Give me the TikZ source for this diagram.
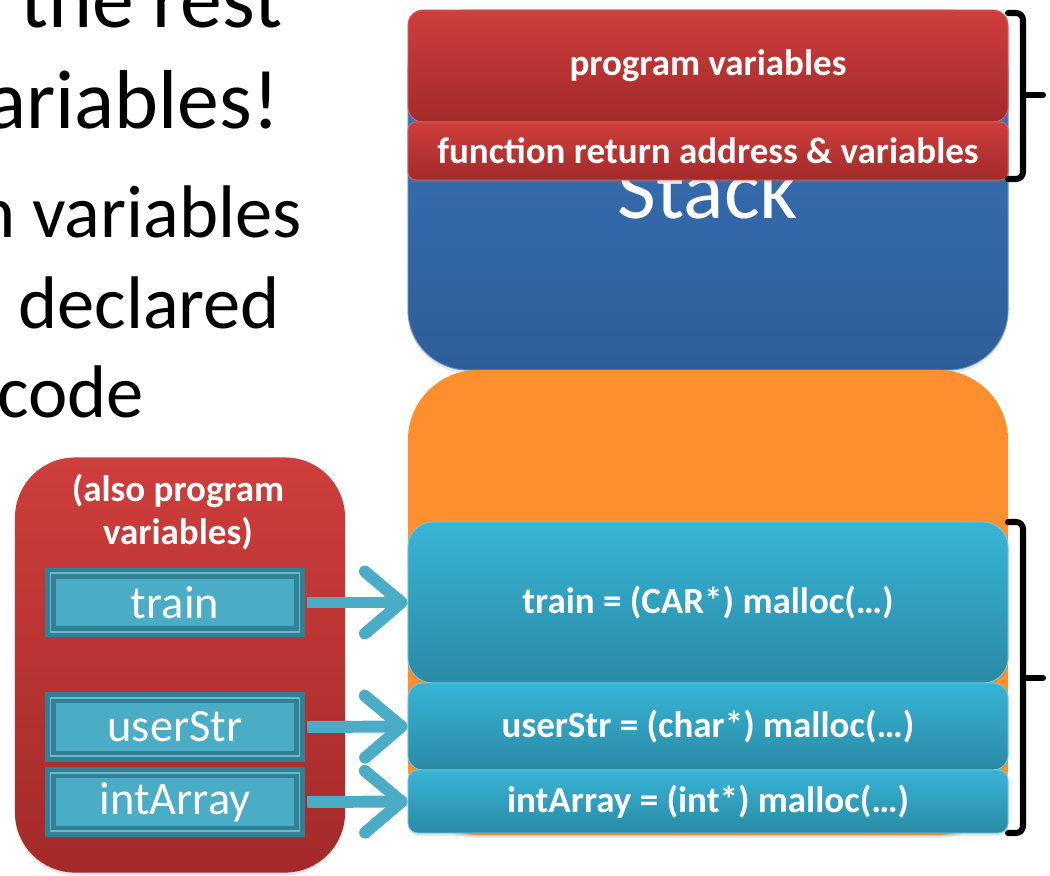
\documentclass[tikz,border=0pt]{standalone}
\usepackage{fontspec}
\setmainfont{Carlito}
\usetikzlibrary{arrows.meta,shadows}
\definecolor{stacktop}{RGB}{58,116,186}
\definecolor{stackbot}{RGB}{46,94,154}
\definecolor{redtop}{RGB}{206,62,60}
\definecolor{redbot}{RGB}{163,42,42}
\definecolor{heapfill}{RGB}{254,143,46}
\definecolor{cyantop}{RGB}{56,180,214}
\definecolor{cyanbot}{RGB}{42,138,165}
\definecolor{varfill}{RGB}{75,172,198}
\definecolor{varframe}{RGB}{49,128,150}
\definecolor{varlight}{RGB}{105,186,208}
\tikzset{
  mem/.style={rounded corners=#1, minimum width=15cm, inner sep=0pt, text=white,
    font=\bfseries\fontsize{26.3}{30}\selectfont,
    drop shadow={shadow xshift=0pt, shadow yshift=-2pt, opacity=0.2}},
  redmem/.style={mem=#1, top color=redtop, bottom color=redbot, draw=redtop!80!white, line width=0.6pt},
  cyanmem/.style={mem=#1, top color=cyantop, bottom color=cyanbot, draw=cyantop!70!white, line width=0.6pt},
  varbox/.style={fill=varfill, draw=varframe, double=varlight, double distance=1.2pt, line width=3.2pt,
    minimum width=6.23cm, minimum height=1.46cm, inner sep=0pt, text=white, font=\fontsize{33}{36}\selectfont},
  flow/.style={draw=varfill, line width=8.5pt, shorten <=3.8pt, -{Straight Barb[length=26pt, width=44pt, round]}},
  bracket/.style={line width=4.3pt, rounded corners=5pt, line cap=round},
  slide/.style={anchor=base west, inner sep=0pt, font=\fontsize{#1}{#1}\selectfont}
}
\begin{document}
\begin{tikzpicture}[x=0.025cm, y=-0.025cm]
  \useasboundingbox (0,0) rectangle (1050,875);
  \clip (0,0) rectangle (1050,875);
  \node[slide=59.5] (rest) at (20,27) {the rest};
  \node[slide=59.5] (vars) at (-14,128) {ariables!};
  \node[slide=53] (nvars) at (-24,237) {n variables};
  \node[slide=53] (decl) at (18,328) {declared};
  \node[slide=53] (code) at (-3,417) {code};
  \node[mem=1.5cm, top color=stacktop, bottom color=stackbot, draw=stacktop!75!white, line width=0.6pt,
    minimum height=9cm, font=\fontsize{60}{60}\selectfont] (stack) at (708,190) {Stack};
  \node[mem=1.75cm, fill=heapfill, minimum height=11.625cm] (heap) at (708,602.5) {};
  \node[redmem=0.375cm, minimum height=2.8cm] (progvars) at (708,66) {program variables};
  \node[redmem=0.2cm, minimum height=1.45cm] (funcvars) at (708,151) {function return address \& variables};
  \node[cyanmem=0.625cm, minimum height=4.025cm] (trainmem) at (708,602.5) {train = (CAR*) malloc(…)};
  \node[cyanmem=0.375cm, minimum height=2.175cm] (strmem) at (708,726.5) {userStr = (char*) malloc(…)};
  \node[cyanmem=0.25cm, minimum height=1.575cm] (arrmem) at (708,801.5) {intArray = (int*) malloc(…)};
  \node[mem=1.5cm, top color=redtop, bottom color=redbot, minimum width=8.25cm, minimum height=10.375cm] (locals) at (180,665) {};
  \node[text=white, font=\bfseries\fontsize{26.3}{30.5}\selectfont, align=center] (localsname) at (178,512) {(also program\\variables)};
  \node[varbox] (trainvar) at (175,602.5) {train};
  \node[varbox] (strvar) at (175,727) {userStr};
  \node[varbox] (arrvar) at (175,802) {intArray};
  \draw[flow] (trainvar.east) -- (trainmem.west);
  \draw[flow] (strvar.east) -- (strmem.west);
  \draw[flow] (arrvar.east) -- (arrmem.west);
  \draw[bracket] (1008,13) -- (1023,13) -- (1023,179) -- (1008,179);
  \draw[bracket] (1023,95) -- (1043,95);
  \draw[bracket] (1008,522) -- (1023,522) -- (1023,833) -- (1008,833);
  \draw[bracket] (1023,678) -- (1043,678);
\end{tikzpicture}
\end{document}
